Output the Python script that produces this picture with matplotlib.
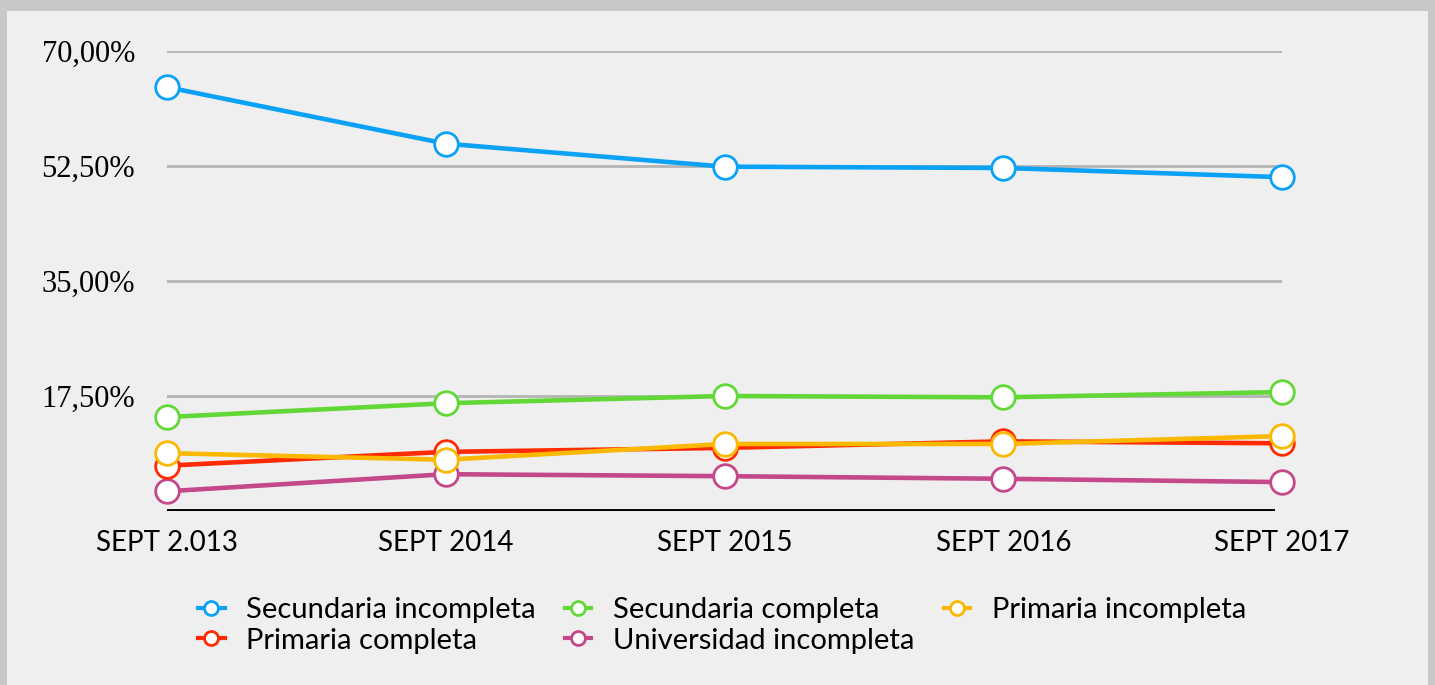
import matplotlib.pyplot as plt
import matplotlib.patches as mpatches
from matplotlib.lines import Line2D

# data (percent)
periods = ['SEPT 2.013', 'SEPT 2014', 'SEPT 2015', 'SEPT 2016', 'SEPT 2017']
sec_incompleta = [64.5, 55.9, 52.4, 52.2, 50.8]
sec_completa = [14.3, 16.4, 17.5, 17.3, 18.1]
prim_incompleta = [8.8, 7.8, 10.2, 10.2, 11.4]
prim_completa = [6.9, 9.0, 9.6, 10.6, 10.3]
univ_incompleta = [3.0, 5.6, 5.3, 4.9, 4.4]
y_ticks = [17.5, 35.0, 52.5, 70.0]
y_labels = ['17,50%', '35,00%', '52,50%', '70,00%']

series = [
    ('Universidad incompleta', univ_incompleta, '#c4488a'),
    ('Primaria completa', prim_completa, '#ff2a00'),
    ('Primaria incompleta', prim_incompleta, '#fbb800'),
    ('Secundaria completa', sec_completa, '#62d836'),
    ('Secundaria incompleta', sec_incompleta, '#0aa2f7'),
]

fig = plt.figure(figsize=(14.35, 6.85), dpi=100, facecolor='#c8c7c9')
# light panel behind everything
fig.patches.append(mpatches.Rectangle((7/1435, 0), 1421/1435, 674/685,
                                      transform=fig.transFigure, facecolor='#efefef',
                                      edgecolor='none', zorder=-5))

ax = fig.add_axes([167/1435, 1 - 511/685, 1115/1435, 460/685])
ax.set_facecolor('none')
x = list(range(len(periods)))

for name, vals, col in series:
    ax.plot(x, vals, color=col, lw=3.3, marker='o', ms=17, mfc='white',
            mec=col, mew=2, clip_on=False, zorder=3, solid_capstyle='round')

ax.set_xlim(0, 4)
ax.set_ylim(0, 70)
for t in y_ticks:
    ax.axhline(t, color='#b4b4b4', lw=2, zorder=1)
ax.axhline(0, xmax=0.992, color='black', lw=2.8, zorder=2)

for s in ax.spines.values():
    s.set_visible(False)
ax.set_yticks(y_ticks)
ax.set_yticklabels(y_labels, fontfamily='Liberation Serif', fontsize=22)
ax.set_xticks(x)
ax.set_xticklabels(periods, fontfamily='Lato', fontsize=20)
ax.tick_params(length=0)
ax.tick_params(axis='y', pad=23)
ax.tick_params(axis='x', pad=14)

# legend, two rows: order chosen so columns fill the way the reference reads
order = ['Secundaria incompleta', 'Primaria completa', 'Secundaria completa',
         'Universidad incompleta', 'Primaria incompleta']
cols = {n: c for n, _, c in series}
handles = [Line2D([], [], color=cols[n], lw=3, marker='o', ms=10, mfc='white',
                  mec=cols[n], mew=2) for n in order]
fig.legend(handles, order, loc='upper left', bbox_to_anchor=(172/1435, 1 - 571/685),
           ncol=3, frameon=False, handlelength=0.9, handletextpad=0.75,
           columnspacing=1.0, labelspacing=0.15,
           prop={'family': 'Lato', 'size': 21})

fig.savefig('out.png', dpi=100, facecolor=fig.get_facecolor())
